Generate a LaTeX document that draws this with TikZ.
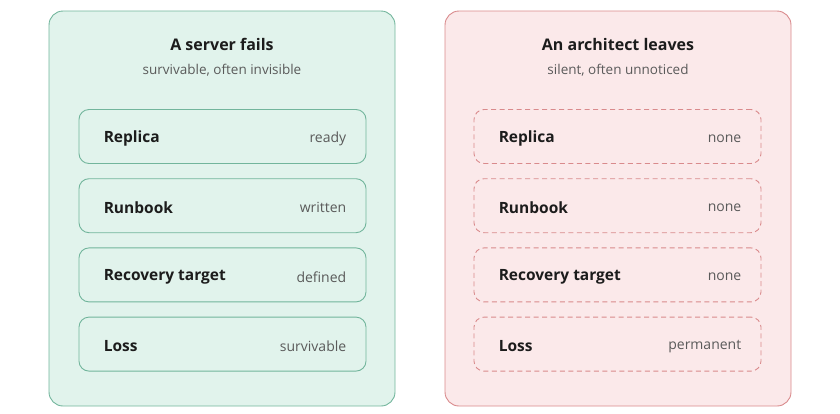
\documentclass[tikz,border=0pt]{standalone}
\usepackage{fontspec}
\setmainfont{Open Sans}
\usepackage{tikz}
\usetikzlibrary{%
	positioning,%
	calc
}
\definecolor{okfill}{HTML}{E1F3EC}
\definecolor{okline}{HTML}{72B59C}
\definecolor{badfill}{HTML}{FBE9EA}
\definecolor{badline}{HTML}{D98A8C}
\definecolor{ink}{HTML}{1C1C1C}
\definecolor{muted}{HTML}{5A5A5A}

\begin{document}
\begin{tikzpicture}[x=1pt,y=-1pt,
		panel/.style={rounded corners=14pt, line width=0.9pt, minimum width=346pt, minimum height=395pt, inner sep=0pt},
		row/.style={rounded corners=10pt, line width=0.9pt, minimum width=287pt, minimum height=54pt, inner sep=0pt},
		gaprow/.style={row, draw=badline, dash pattern=on 5pt off 3.5pt},
		okrow/.style={row, draw=okline},
		heading/.style={font=\fontsize{16}{19}\selectfont\bfseries, text=ink},
		subheading/.style={font=\fontsize{13.5}{16}\selectfont, text=muted},
		rowlabel/.style={font=\fontsize{15.5}{18}\selectfont\bfseries, text=ink, inner sep=0pt, yshift=-2pt},
		rowvalue/.style={font=\fontsize{14}{17}\selectfont, text=muted, inner sep=0pt, yshift=-2pt}
	]
	\useasboundingbox (0,0) rectangle (840,413);

	% Panels
	\node[panel, draw=okline, fill=okfill] (server) at (222,208.5) {};
	\node[panel, draw=badline, fill=badfill] (architect) at (618,208.5) {};

	% Headings
	\node[heading] (serverhead) at (222,44) {A server fails};
	\node[subheading] (serversub) at (222,70) {survivable, often invisible};
	\node[heading] (architecthead) at (618,44) {An architect leaves};
	\node[subheading] (architectsub) at (618,70) {silent, often unnoticed};

	% Rows, left side
	\foreach \lbl/\val [count=\i] in {Replica/ready, Runbook/written, Recovery target/defined, Loss/survivable} {
		\node[okrow] (srow\i) at (222.5,{136.5+(\i-1)*69.2}) {};
		\node[rowlabel, anchor=west, right=25pt of srow\i.west] (slbl\i) {\lbl};
		\node[rowvalue, anchor=east, left=20pt of srow\i.east] (sval\i) {\val};
	}

	% Rows, right side
	\foreach \lbl/\val [count=\i] in {Replica/none, Runbook/none, Recovery target/none, Loss/permanent} {
		\node[gaprow] (arow\i) at (617.5,{136.5+(\i-1)*69.2}) {};
		\node[rowlabel, anchor=west, right=25pt of arow\i.west] (albl\i) {\lbl};
		\node[rowvalue, anchor=east, left=20pt of arow\i.east] (aval\i) {\val};
	}
\end{tikzpicture}
\end{document}
